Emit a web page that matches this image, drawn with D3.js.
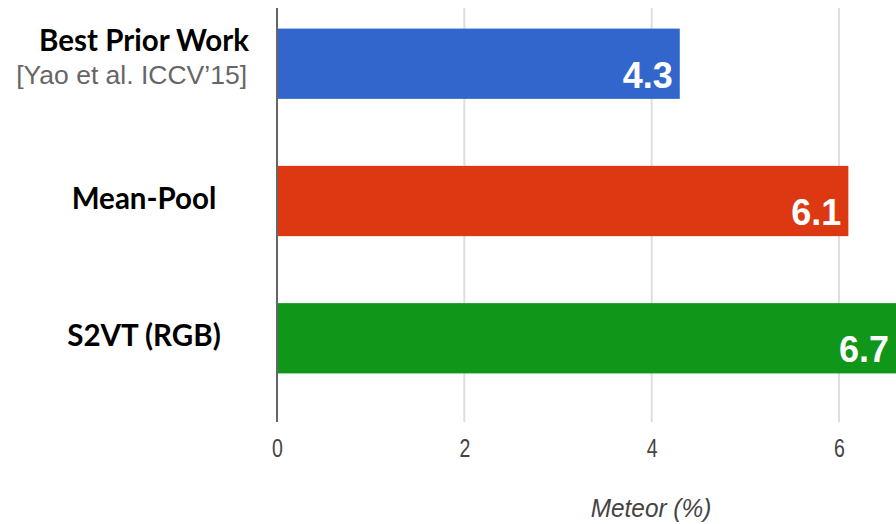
<!DOCTYPE html>
<html>
<head>
<meta charset="utf-8">
<script src="https://cdn.jsdelivr.net/npm/d3@7"></script>
<style>
  body { margin: 0; background: #fff; }
  svg { display: block; }
</style>
</head>
<body>
<script>
const W = 896;
const H = 524;

// data
const categories = ["Best Prior Work", "Mean-Pool", "S2VT (RGB)"];
const subLabels = ["[Yao et al. ICCV\u201915]", "", ""];
const meteor = [4.3, 6.1, 6.7];
const barColors = ["#3366cc", "#dc3912", "#109618"];
const xTicks = [0, 2, 4, 6];
const xTitle = "Meteor (%)";

const x0 = 277;
const plotTop = 8;
const plotBottom = 422;

const svg = d3.select("body").append("svg")
    .attr("width", W)
    .attr("height", H);

const x = d3.scaleLinear()
    .domain([0, 6])
    .range([x0, 839]);

const y = d3.scaleBand()
    .domain(categories)
    .range([8, 394])
    .paddingInner(0.488)
    .paddingOuter(0.15);

// grid lines
svg.append("g")
    .selectAll("line")
    .data(xTicks.filter(d => d > 0))
    .join("line")
    .attr("x1", d => x(d))
    .attr("x2", d => x(d))
    .attr("y1", plotTop)
    .attr("y2", plotBottom)
    .attr("stroke", "#dedede")
    .attr("stroke-width", 2);

// bars
svg.append("g")
    .selectAll("rect")
    .data(categories)
    .join("rect")
    .attr("x", x(0))
    .attr("y", d => y(d))
    .attr("width", (d, i) => x(meteor[i]) - x(0))
    .attr("height", y.bandwidth())
    .attr("fill", (d, i) => barColors[i]);

// zero axis line
svg.append("line")
    .attr("x1", x(0))
    .attr("x2", x(0))
    .attr("y1", plotTop)
    .attr("y2", plotBottom)
    .attr("stroke", "#666")
    .attr("stroke-width", 2);

// value labels inside bars
svg.append("g")
    .selectAll("text")
    .data(categories)
    .join("text")
    .attr("x", (d, i) => Math.min(x(meteor[i]), W) - 7)
    .attr("y", d => y(d) + y.bandwidth() - 11)
    .attr("text-anchor", "end")
    .attr("font-family", "'Liberation Sans', Arial, sans-serif")
    .attr("font-weight", "bold")
    .attr("font-size", 36)
    .attr("fill", "#fff")
    .text((d, i) => meteor[i].toFixed(1));

// category labels
const cat = svg.append("g");
cat.selectAll("text.main")
    .data(categories)
    .join("text")
    .attr("class", "main")
    .attr("x", 144)
    .attr("y", (d, i) => subLabels[i] ? y(d) + 22 : y(d) + y.bandwidth() / 2 + 8)
    .attr("text-anchor", "middle")
    .attr("font-family", "Lato, 'Open Sans', sans-serif")
    .attr("font-weight", "bold")
    .attr("font-size", 29.5)
    .attr("fill", "#000")
    .text(d => d);

cat.selectAll("text.sub")
    .data(categories.filter((d, i) => subLabels[i]))
    .join("text")
    .attr("class", "sub")
    .attr("x", 247)
    .attr("y", d => y(d) + 55)
    .attr("text-anchor", "end")
    .attr("font-family", "'Liberation Sans', Arial, sans-serif")
    .attr("font-size", 26.5)
    .attr("fill", "#666")
    .text(d => subLabels[categories.indexOf(d)]);

// x axis tick labels
const xAxis = d3.axisBottom(x)
    .tickValues(xTicks)
    .tickSize(0)
    .tickPadding(0)
    .tickFormat(d3.format("d"));

const ax = svg.append("g")
    .attr("transform", `translate(0, ${plotBottom})`)
    .call(xAxis);
ax.select(".domain").remove();
ax.selectAll("text")
    .attr("dy", null)
    .attr("y", 0)
    .attr("transform", "translate(0, 35) scale(0.78, 1)")
    .attr("font-family", "'Liberation Sans', Arial, sans-serif")
    .attr("font-size", 25)
    .attr("fill", "#444");

svg.append("text")
    .attr("transform", "translate(651, 517) scale(0.92, 1)")
    .attr("text-anchor", "middle")
    .attr("font-family", "'Liberation Sans', Arial, sans-serif")
    .attr("font-style", "italic")
    .attr("font-size", 26.5)
    .attr("fill", "#444")
    .text(xTitle);
</script>
</body>
</html>
